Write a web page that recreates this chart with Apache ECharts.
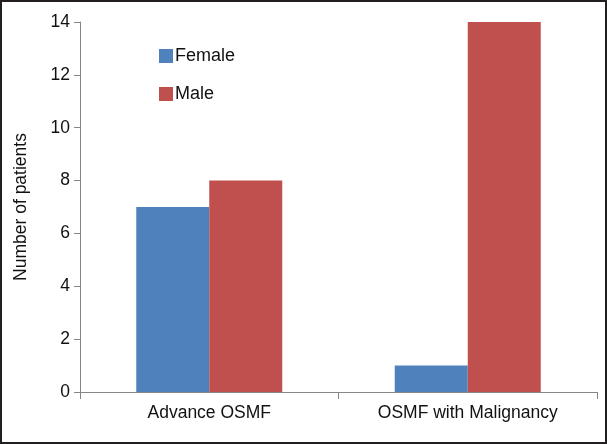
<!DOCTYPE html>
<html><head><meta charset="utf-8">
<script src="https://cdn.jsdelivr.net/npm/echarts@6/dist/echarts.min.js"></script>
<style>html,body{margin:0;padding:0;background:#fff}#c{width:607px;height:444px;box-sizing:border-box;border:2px solid #231f20}</style>
</head><body><div id="c"></div>
<script>
const categories = ['Advance OSMF', 'OSMF with Malignancy'];
const female = [7, 1];
const male = [8, 14];
const chart = echarts.init(document.getElementById('c'));
chart.setOption({
  animation: false,
  textStyle: {fontFamily: 'Liberation Sans, Arial, sans-serif'},
  grid: {left: 78, right: 8, top: 20, bottom: 50, containLabel: false},
  legend: {
    orient: 'vertical', left: 152, top: 40, itemGap: 20, itemWidth: 14, itemHeight: 14,
    icon: 'rect',
    textStyle: {fontSize: 18, color: '#111', padding: [0,0,0,-3]},
    data: ['Female', 'Male']
  },
  xAxis: {
    type: 'category', data: categories,
    axisLine: {lineStyle: {color: '#868686', width: 1}},
    axisTick: {show: true, length: 7, lineStyle: {color: '#868686'}},
    axisLabel: {fontSize: 17.5, color: '#111', margin: 12}
  },
  yAxis: {
    type: 'value', min: 0, max: 14, interval: 2,
    name: 'Number of patients', nameLocation: 'middle', nameGap: 50, nameRotate: 90,
    nameTextStyle: {fontSize: 17.5, color: '#111'},
    axisLine: {show: true, lineStyle: {color: '#868686'}},
    axisTick: {show: true, length: 6, lineStyle: {color: '#868686'}},
    axisLabel: {fontSize: 17.5, color: '#111', margin: 10},
    splitLine: {show: false}
  },
  series: [
    {name: 'Female', type: 'bar', data: female, barWidth: 73, barGap: '0%', itemStyle: {color: '#4f81bd'}},
    {name: 'Male', type: 'bar', data: male, barWidth: 73, barGap: '0%', itemStyle: {color: '#c0504d'}}
  ]
});
</script></body></html>
